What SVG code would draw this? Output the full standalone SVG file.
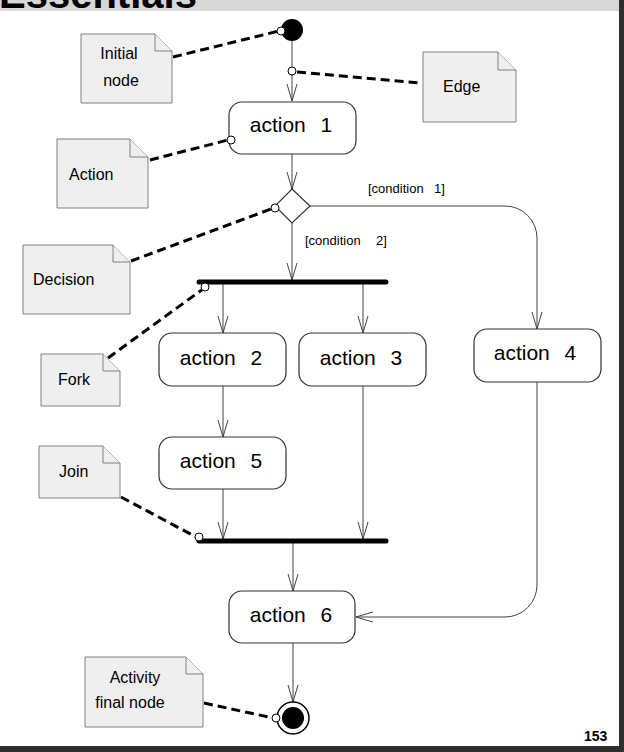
<svg xmlns="http://www.w3.org/2000/svg" width="624" height="752" viewBox="0 0 624 752">
<style>
text{font-family:"Liberation Sans",Arial,sans-serif;fill:#000}
.act{fill:#fff;stroke:#333;stroke-width:1.2}
.lbl{font-size:21px;text-anchor:middle}
.note path{fill:#efefef;stroke:#808080;stroke-width:1}
.note text{font-size:16px}
.edge{fill:none;stroke:#444;stroke-width:1}
.dash{fill:none;stroke:#000;stroke-width:3;stroke-dasharray:9,5}
.dot{fill:#fff;stroke:#000;stroke-width:1}
.bar{stroke:#000;stroke-width:5;stroke-linecap:round}
.cond{font-size:13px}
</style>
<defs>
<marker id="arr" markerUnits="userSpaceOnUse" markerWidth="20" markerHeight="14" viewBox="-18 -7 20 14" refX="0" refY="0" orient="auto">
<path d="M-17,-5 L0,0 L-17,5" fill="none" stroke="#444" stroke-width="1"/>
</marker>
</defs>
<rect width="624" height="752" fill="#fff"/>
<rect x="0" y="0" width="624" height="11" fill="#d8d8d8"/>
<text x="-1" y="8" font-size="40" font-weight="bold">Essentials</text>
<rect x="619" y="0" width="5" height="752" fill="#2e2e2e"/>
<rect x="0" y="746" width="624" height="6" fill="#2e2e2e"/>
<text x="584" y="741" font-size="14" font-weight="bold">153</text>

<g id="connectors">
<path class="edge" d="M292,41 V101" marker-end="url(#arr)"/>
<path class="edge" d="M292,154 V189" marker-end="url(#arr)"/>
<path class="edge" d="M292,223 V280" marker-end="url(#arr)"/>
<path class="edge" d="M310,206 H505 A32,32 0 0 1 537,238 V329" marker-end="url(#arr)"/>
<path class="edge" d="M223,284 V333" marker-end="url(#arr)"/>
<path class="edge" d="M363,284 V333" marker-end="url(#arr)"/>
<path class="edge" d="M223,386 V437" marker-end="url(#arr)"/>
<path class="edge" d="M223,489 V539" marker-end="url(#arr)"/>
<path class="edge" d="M363,386 V539" marker-end="url(#arr)"/>
<path class="edge" d="M293,543 V591" marker-end="url(#arr)"/>
<path class="edge" d="M537,382 V585 A32,32 0 0 1 505,617 H356" marker-end="url(#arr)"/>
<path class="edge" d="M293,643 V702" marker-end="url(#arr)"/>
<text class="cond" x="368" y="193">[condition <tspan x="434">1]</tspan></text>
<text class="cond" x="305" y="245">[condition <tspan x="376">2]</tspan></text>
<path class="dash" d="M173,57 L279,31"/>
<path class="dash" d="M297,72 L419,83"/>
<path class="dash" d="M150,160 L228,140"/>
<path class="dash" d="M131,261 L271,209"/>
<path class="dash" d="M108,358 L203,289"/>
<path class="dash" d="M121,497 L196,537"/>
<path class="dash" d="M204,703 L273,718"/>
</g>

<g id="initial"><circle cx="292" cy="30" r="11" fill="#000"/><circle class="dot" cx="281" cy="31" r="4"/></g>
<g id="edge-dot"><circle class="dot" cx="292" cy="71" r="4"/></g>

<g id="action1"><rect class="act" x="229" y="102" width="127" height="52" rx="13"/><text class="lbl" x="291" y="132">action <tspan dx="9">1</tspan></text><circle class="dot" cx="231" cy="140" r="4"/></g>

<g id="decision"><path class="act" d="M292,189 L310,206 L292,223 L275,206 Z"/><circle class="dot" cx="275" cy="208" r="4"/></g>

<g id="fork"><line class="bar" x1="199" y1="282" x2="386" y2="282"/><circle class="dot" cx="205" cy="287" r="4"/></g>

<g id="action2"><rect class="act" x="159" y="333" width="127" height="53" rx="13"/><text class="lbl" x="221" y="365">action <tspan dx="9">2</tspan></text></g>
<g id="action3"><rect class="act" x="299" y="333" width="127" height="53" rx="13"/><text class="lbl" x="361" y="365">action <tspan dx="9">3</tspan></text></g>
<g id="action4"><rect class="act" x="474" y="329" width="127" height="53" rx="13"/><text class="lbl" x="535" y="360">action <tspan dx="9">4</tspan></text></g>
<g id="action5"><rect class="act" x="159" y="437" width="127" height="52" rx="13"/><text class="lbl" x="221" y="468">action <tspan dx="9">5</tspan></text></g>

<g id="join"><line class="bar" x1="199" y1="541" x2="386" y2="541"/><circle class="dot" cx="199" cy="537" r="4"/></g>

<g id="action6"><rect class="act" x="229" y="591" width="126" height="52" rx="13"/><text class="lbl" x="291" y="622">action <tspan dx="9">6</tspan></text></g>

<g id="final"><circle cx="293" cy="718" r="16" fill="#fff" stroke="#000" stroke-width="1.5"/><circle cx="293" cy="718" r="11" fill="#000"/><circle class="dot" cx="276" cy="718" r="4"/></g>

<g id="note-initial" class="note"><path d="M81,34 H155 L172,51 V103 H81 Z"/><path d="M155,34 V51 H172"/><text x="119" y="59" text-anchor="middle">Initial</text><text x="121" y="86" text-anchor="middle">node</text></g>
<g id="note-edge" class="note"><path d="M423,52 H498 L516,70 V122 H423 Z"/><path d="M498,52 V70 H516"/><text x="443" y="92">Edge</text></g>
<g id="note-action" class="note"><path d="M57,139 H130 L148,157 V208 H57 Z"/><path d="M130,139 V157 H148"/><text x="69" y="180">Action</text></g>
<g id="note-decision" class="note"><path d="M23,245 H113 L130,262 V314 H23 Z"/><path d="M113,245 V262 H130"/><text x="33" y="285">Decision</text></g>
<g id="note-fork" class="note"><path d="M41,354 H103 L120,371 V406 H41 Z"/><path d="M103,354 V371 H120"/><text x="58" y="385">Fork</text></g>
<g id="note-join" class="note"><path d="M39,446 H103 L120,463 V498 H39 Z"/><path d="M103,446 V463 H120"/><text x="59" y="477">Join</text></g>
<g id="note-final" class="note"><path d="M85,657 H186 L203,674 V727 H85 Z"/><path d="M186,657 V674 H203"/><text x="135" y="683" text-anchor="middle">Activity</text><text x="130" y="708" text-anchor="middle">final node</text></g>
</svg>
